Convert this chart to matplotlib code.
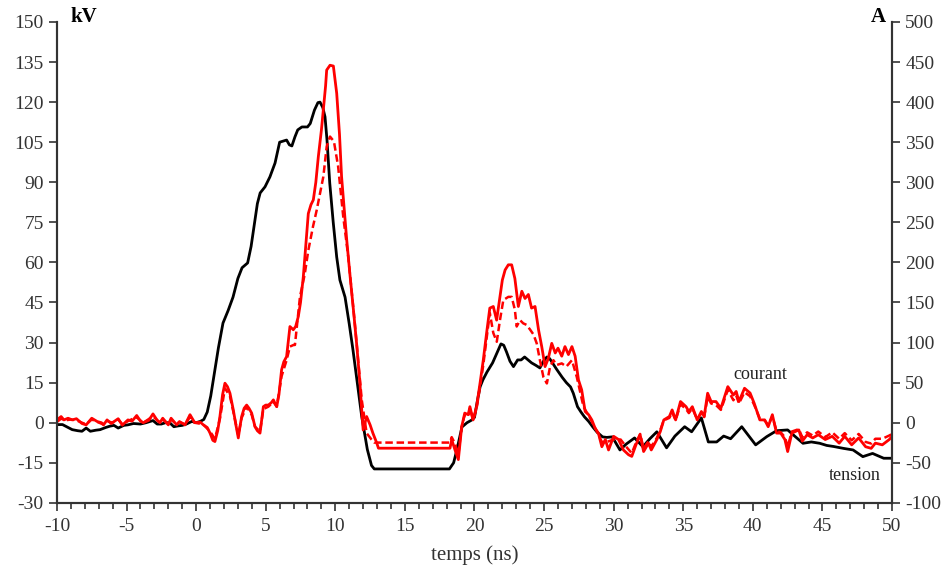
import matplotlib
matplotlib.use('Agg')
import matplotlib.pyplot as plt
from matplotlib.ticker import MultipleLocator

# tension (kV)
t_tension = [-10, -9.6, -9.2, -8.9, -8.5, -8.2, -7.9, -7.6, -7.2, -6.9, -6.5, -6.2, -5.9, -5.6, -5.2,
             -4.9, -4.5, -4.0, -3.6, -3.1, -2.8, -2.5, -2.2, -1.9, -1.6, -1.3, -1.0, -0.7, -0.3, 0.0,
             0.3, 0.55, 0.8, 1.05, 1.35, 1.6, 1.93, 2.3, 2.65, 3.0, 3.3, 3.7, 3.95, 4.2, 4.4, 4.6,
             4.95, 5.3, 5.67, 6.0, 6.3, 6.5, 6.7, 6.88, 7.1, 7.3, 7.6, 8.0, 8.2, 8.5, 8.75, 8.9,
             9.1, 9.26, 9.4, 9.6, 9.85, 10.1, 10.33, 10.7, 11.0, 11.27, 11.6, 11.9, 12.3, 12.6, 12.8,
             18.2, 18.5, 18.74, 19.1, 19.46, 19.8, 20.0, 20.2, 20.4, 20.6, 20.9, 21.3, 21.7, 21.9,
             22.1, 22.3, 22.55, 22.8, 23.1, 23.35, 23.6, 23.85, 24.1, 24.4, 24.7, 24.95, 25.2, 25.4,
             25.6, 25.9, 26.3, 26.6, 26.9, 27.1, 27.4, 27.65, 27.9, 28.2, 28.5, 28.8, 29.2, 29.5,
             29.9, 30.2, 30.45, 30.9, 31.5, 32.1, 32.6, 33.1, 33.8, 34.4, 35.1, 35.6, 36.3, 36.8,
             37.4, 37.9, 38.4, 39.2, 40.2, 41.0, 41.7, 42.5, 43.0, 43.6, 44.2, 44.8, 45.3, 45.8,
             46.5, 47.2, 47.9, 48.6, 49.4, 50.0]
tension = [-0.7, -0.7, -1.8, -2.6, -3.0, -3.2, -2.0, -3.2, -2.8, -2.6, -1.8, -1.3, -1.0, -2.0, -1.0,
           -0.8, -0.3, -0.5, 0.0, 0.8, -0.5, -0.5, 0.0, 0.0, -1.5, -1.2, -1.0, -0.5, 0.5, 0.0,
           0.5, 1.2, 4, 10, 19.8, 28, 37.3, 42, 47, 54, 58, 59.8, 66, 74.8, 82, 86,
           88.3, 92, 97.2, 105, 105.5, 105.8, 104, 103.6, 107, 109.6, 110.7, 110.7, 112, 117, 119.8, 120,
           118, 114.5, 106, 89.7, 75, 62, 53.4, 47, 37, 27.2, 14, 2.2, -10, -16, -17.3,
           -17.3, -15, -10, -1.6, 0, 1, 2, 8, 13.4, 16, 19, 22.4, 27.2, 29.5,
           29, 26.5, 23, 21, 23.5, 23.5, 24.6, 23.5, 22.4, 21.5, 20.5, 23, 24.6, 24,
           22.4, 20, 17, 15, 13.4, 11, 6, 4, 2.2, 0.5, -1.6, -3.5, -5.3, -5.5,
           -5.3, -8, -10.2, -8, -5.7, -9, -6, -3.4, -9.4, -5, -1.5, -3.4, 1.8, -7.2,
           -7.2, -5, -6, -1.5, -8.3, -5.2, -3, -2.7, -5, -7.7, -7.2, -7.7, -8.5, -8.9,
           -9.6, -10.2, -12.7, -11.5, -13.3, -13.3]

# courant (A), trait plein
t_courant = [-10, -9.7, -9.5, -9.2, -8.9, -8.6, -8.2, -7.9, -7.5, -7.1, -6.8, -6.65, -6.4, -6.1, -5.8,
             -5.6, -5.3, -4.9, -4.6, -4.27, -4.0, -3.8, -3.4, -3.1, -2.8, -2.6, -2.4, -2.0, -1.8, -1.4,
             -1.2, -0.8, -0.44, -0.1, 0.3, 0.52, 0.8, 1.0, 1.2, 1.35, 1.55, 1.71, 1.9, 2.07, 2.25,
             2.43, 2.67, 2.85, 3.03, 3.15, 3.27, 3.45, 3.63, 3.8, 3.99, 4.23, 4.4, 4.59, 4.7, 4.83,
             5.0, 5.19, 5.4, 5.55, 5.79, 5.95, 6.14, 6.3, 6.5, 6.74, 6.98, 7.15, 7.34, 7.5, 7.7,
             7.9, 8.06, 8.25, 8.42, 8.6, 8.78, 9.0, 9.14, 9.3, 9.38, 9.62, 9.86, 10.1, 10.3, 10.45,
             10.65, 10.82, 11.05, 11.3, 11.55, 11.77, 11.9, 12.0, 12.25, 12.5, 12.7, 12.97, 13.1,
             18.24, 18.36, 18.6, 18.84, 19.08, 19.3, 19.55, 19.67, 19.9, 20.15, 20.4, 20.63, 20.87,
             21.1, 21.35, 21.59, 21.83, 22.0, 22.2, 22.43, 22.67, 22.9, 23.15, 23.4, 23.63, 23.87,
             24.1, 24.35, 24.6, 24.83, 25.07, 25.3, 25.55, 25.8, 26.0, 26.27, 26.5, 26.75, 27.0,
             27.23, 27.47, 27.7, 27.95, 28.2, 28.43, 28.67, 28.9, 29.15, 29.4, 29.63, 30.0, 30.35,
             30.7, 31.07, 31.3, 31.6, 31.9, 32.15, 32.5, 32.7, 33.1, 33.35, 33.6, 34.0, 34.2, 34.45,
             34.8, 35.2, 35.4, 35.65, 36.0, 36.3, 36.5, 36.75, 37.0, 37.35, 37.7, 38.2, 38.6, 38.8,
             39.0, 39.4, 39.8, 40.1, 40.5, 40.85, 41.1, 41.4, 41.7, 42.0, 42.3, 42.5, 42.8, 43.3,
             43.55, 43.9, 44.3, 44.7, 45.2, 45.7, 46.2, 46.6, 47.1, 47.6, 48.1, 48.5, 48.8, 49.3,
             49.8, 50]
courant = [3.5, 7.7, 3.5, 5.6, 3.5, 5, -1, -2.7, 5.6, 1.4, 0, -2.7, 3.5, -1, 2.5,
           5, -3, 3.5, 2, 9, 2, 0, 3, 11, 3, 0, 5.6, -2.7, 5.6, -2.7,
           1.4, -2.7, 10, 0, 0.7, -2.7, -6, -13, -22, -23.5, -10, 7.7, 35, 49.3, 45,
           36.8, 16, -2, -19, -5, 7.7, 18, 22, 18, 12, -5, -10, -13, 2, 20,
           22, 22, 25, 28.5, 20, 35, 66, 76, 82.5, 120, 116, 120, 132.4, 150, 182,
           225, 261, 272, 278, 300, 332, 365, 390, 420, 440, 446, 445, 411, 360, 307,
           265, 228, 185, 141, 95, 49, 15, -9, 7.7, -2.7, -13, -25, -31.8,
           -31.8, -21, -34, -46, -5, 12, 10, 20, 3.5, 20, 49.6, 78, 112,
           143, 145, 128, 157, 178, 190.6, 197, 197, 180, 145, 164, 155, 160,
           143, 145, 116, 95, 70, 80, 99, 87, 93, 83, 95, 85, 95,
           83, 53.4, 41, 14, 10, 3.5, -7, -13, -30, -21, -34, -17, -21,
           -34, -40, -42, -27.6, -15, -36, -25.5, -34, -21, -11, 3.5, 7.7, 16, 3.5,
           26.4, 20, 14, 20, 3.5, 14, 7.7, 36.8, 26.4, 26.4, 18, 45, 34.6, 39,
           26.4, 43, 37, 24, 3.5, 3.5, -5, 10, -13, -13, -21, -36, -13, -9,
           -23, -15, -19, -15, -21, -17, -25.5, -17, -27.6, -19, -30, -32, -25.5, -27.6,
           -21, -17]

# courant (A), pointillé
t_courant2 = [-10, -9.7, -9.4, -9.0, -8.6, -8.2, -7.9, -7.5, -7.1, -6.7, -6.4, -6.0, -5.6, -5.3, -4.9,
              -4.3, -3.8, -3.1, -2.6, -2.4, -2.0, -1.8, -1.4, -1.2, -0.8, -0.44, -0.1, 0.5, 1.0,
              1.35, 1.71, 2.07, 2.43, 2.67, 3.03, 3.27, 3.63, 3.99, 4.23, 4.59, 4.83, 5.19, 5.55,
              5.79, 6.14, 6.5, 6.74, 7.0, 7.1, 7.46, 7.8, 8.06, 8.4, 8.66, 9.14, 9.38, 9.62, 9.9,
              10.2, 10.57, 10.93, 11.4, 11.9, 12.25, 12.6, 12.8, 18.24, 18.36, 18.6, 18.84, 19.08,
              19.3, 19.55, 19.67, 19.9, 20.15, 20.4, 20.63, 20.87, 21.1, 21.35, 21.6, 21.83, 22.07,
              22.43, 22.67, 22.9, 23.03, 23.27, 23.5, 23.75, 24.0, 24.24, 24.47, 24.7, 24.95, 25.2,
              25.43, 25.67, 25.9, 26.27, 26.6, 27.0, 27.35, 27.83, 28.3, 28.8, 29.15, 29.5, 30.0,
              30.5, 30.9, 31.3, 31.6, 31.9, 32.15, 32.5, 32.7, 33.1, 33.35, 33.6, 34.0, 34.2, 34.45,
              34.8, 35.2, 35.4, 35.65, 36.0, 36.3, 36.5, 36.75, 37.0, 37.35, 37.7, 38.2, 38.6, 38.8,
              39.0, 39.4, 39.8, 40.1, 40.5, 40.85, 41.1, 41.4, 41.7, 42.0, 42.3, 42.5, 42.8, 43.3,
              43.55, 43.9, 44.3, 44.7, 45.2, 45.7, 46.2, 46.6, 47.1, 47.6, 48.1, 48.5, 48.8, 49.3,
              49.8, 50]
courant2 = [1, 5, 3, 4, 3, 0, -2, 4, 1, -2, 2, 0, 4, -2, 2,
            7, 0, 8, 0, 4, -2, 4, -2, 1, -2, 7, 0, -2, -11,
            -20, 5, 43, 33, 14, -16, 6, 20, 10, -5, -11, 17, 20, 26,
            20, 58, 78, 95, 97, 97, 157, 185, 215, 245, 265, 307, 344.5, 357, 351,
            320, 257, 207, 124, 28.5, -13, -21, -24.8, -24.8, -18, -26, -40, -5,
            10, 8, 18, 3, 18, 45, 72, 105, 137, 112, 101, 128, 153,
            157, 157, 141, 120, 128, 124, 122, 116, 110, 99, 78, 57, 49,
            70, 78, 72, 74, 70, 78, 57, 20, 5.6, -11, -24, -24, -21,
            -21, -30, -38, -25, -14, -32, -23, -30, -19, -9, 3, 6, 13, 3,
            23, 17, 12, 18, 4, 12, 7, 32, 24, 22, 16, 41, 28, 34,
            24, 38, 33, 22, 5, 3, -3, 8, -10, -12, -18, -30, -11, -8,
            -18, -12, -16, -11, -18, -12, -20, -13, -22, -14, -24, -26, -20, -20,
            -16, -14]

plt.rcParams['font.family'] = ['Liberation Serif', 'DejaVu Serif']
plt.rcParams['axes.unicode_minus'] = False
gris = '#333333'

fig = plt.figure(figsize=(9.49, 5.78), dpi=100)
ax = fig.add_axes([0.060, 0.130, 0.880, 0.832])
ax2 = ax.twinx()

ax.plot(t_tension, tension, color='black', linewidth=2)
ax2.plot(t_courant2, courant2, color='red', linewidth=1.8, linestyle=(0, (3, 1.5)))
ax2.plot(t_courant, courant, color='red', linewidth=2)

ax.set_xlim(-10, 50)
ax.set_ylim(-30, 150)
ax2.set_ylim(-100, 500)
ax.set_xticks(range(-10, 51, 5))
ax.xaxis.set_minor_locator(MultipleLocator(1))
ax.set_yticks(range(-30, 151, 15))
ax2.set_yticks(range(-100, 501, 50))

for a in (ax, ax2):
    a.spines['top'].set_visible(False)
    for s in a.spines.values():
        s.set_color(gris)
        s.set_linewidth(1.5)
    a.tick_params(which='both', direction='out', color=gris, labelcolor=gris, labelsize=14, width=1.2)
    a.tick_params(which='major', length=6)
    a.tick_params(which='minor', length=4)
ax.tick_params(axis='x', pad=5)

ax.set_xlabel("temps (ns)", fontsize=15, color=gris, labelpad=7)
ax.text(0.016, 1.01, "kV", transform=ax.transAxes, fontsize=15, fontweight='bold', va='center', ha='left')
ax.text(0.984, 1.01, "A", transform=ax.transAxes, fontsize=15, fontweight='bold', va='center', ha='center')
ax.text(40.5, 17.9, "courant", fontsize=13, ha='center', va='center', color='#222222')
ax.text(47.3, -19.9, "tension", fontsize=13, ha='center', va='center', color='#222222')

fig.savefig("out.png", dpi=100)
